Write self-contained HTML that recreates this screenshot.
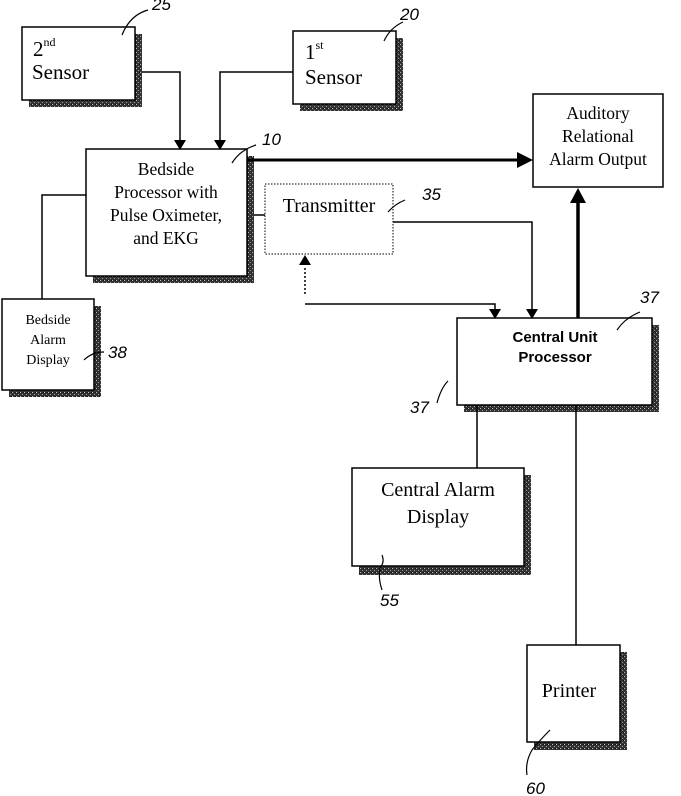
<!DOCTYPE html>
<html><head><meta charset="utf-8"><style>
html,body{margin:0;padding:0;background:#fff;}
svg{display:block;}
text{font-family:"Liberation Serif",serif;fill:#000;}
.h{font-family:"Liberation Sans",sans-serif;font-style:italic;font-size:17px;}
</style></head><body>
<svg width="681" height="796" viewBox="0 0 681 796" xmlns="http://www.w3.org/2000/svg">
<defs>
<pattern id="sh" width="4" height="4" patternUnits="userSpaceOnUse">
<rect width="4" height="4" fill="#333"/><rect x="0" y="0" width="1" height="1" fill="#bbb"/><rect x="2" y="2" width="1" height="1" fill="#999"/><rect x="3" y="0" width="1" height="1" fill="#111"/>
</pattern>
</defs>
<g fill="url(#sh)">
<rect x="29" y="34" width="113" height="73"/>
<rect x="300" y="38" width="103" height="73"/>
<rect x="93" y="156" width="161" height="127"/>
<rect x="9" y="306" width="92" height="91"/>
<rect x="464" y="325" width="195" height="87"/>
<rect x="359" y="475" width="172" height="100"/>
<rect x="534" y="652" width="93" height="98"/>
</g>
<g fill="#fff" stroke="#000" stroke-width="1.5">
<rect x="22" y="27" width="113" height="73"/>
<rect x="293" y="31" width="103" height="73"/>
<rect x="86" y="149" width="161" height="127"/>
<rect x="2" y="299" width="92" height="91"/>
<rect x="457" y="318" width="195" height="87"/>
<rect x="352" y="468" width="172" height="98"/>
<rect x="527" y="645" width="93" height="97"/>
<rect x="533" y="94" width="130" height="93"/>
</g>
<rect x="265" y="184" width="128" height="70" fill="#fff" stroke="#000" stroke-width="1" stroke-dasharray="1.5,1.5"/>

<g stroke="#000" fill="none" stroke-width="1.5">
<polyline points="142,72 180,72 180,141"/>
<polyline points="293,72 220,72 220,141"/>
<polyline points="86,195 42,195 42,299"/>
<line x1="254" y1="215" x2="265" y2="215"/>
<polyline points="393,222 532,222 532,310"/>
<polyline points="305,304 495,304 495,310"/>
<line x1="305" y1="268" x2="305" y2="296" stroke-dasharray="2,2"/>
<line x1="477" y1="405" x2="477" y2="468"/>
<line x1="576" y1="405" x2="576" y2="645"/>
<line x1="247" y1="160" x2="520" y2="160" stroke-width="3"/>
<line x1="578" y1="318" x2="578" y2="200" stroke-width="3.5"/>
</g>
<g fill="#000">
<polygon points="174,140 186,140 180,150"/>
<polygon points="214,140 226,140 220,150"/>
<polygon points="526,309 538,309 532,319"/>
<polygon points="489,309 501,309 495,319"/>
<polygon points="299,265 311,265 305,255"/>
<polygon points="517,152 517,168 533,160"/>
<polygon points="570,203 586,203 578,188"/>
</g>

<text x="33" y="56" font-size="21">2<tspan font-size="12" dy="-10">nd</tspan></text>
<text x="32" y="79" font-size="21">Sensor</text>
<text x="305" y="59" font-size="21">1<tspan font-size="12" dy="-10">st</tspan></text>
<text x="305" y="84" font-size="21">Sensor</text>
<g font-size="17.5" text-anchor="middle">
<text x="166" y="175">Bedside</text>
<text x="166" y="198">Processor with</text>
<text x="166" y="221">Pulse Oximeter,</text>
<text x="166" y="244">and EKG</text>
</g>
<text x="329" y="212" font-size="20" text-anchor="middle">Transmitter</text>
<g font-size="17.5" text-anchor="middle">
<text x="598" y="119">Auditory</text>
<text x="598" y="142">Relational</text>
<text x="598" y="165">Alarm Output</text>
</g>
<g font-size="14" text-anchor="middle">
<text x="48" y="324">Bedside</text>
<text x="48" y="344">Alarm</text>
<text x="48" y="364">Display</text>
</g>
<g font-weight="bold" font-size="15" text-anchor="middle">
<text x="555" y="342" style="font-family:'Liberation Sans',sans-serif">Central Unit</text>
<text x="555" y="362" style="font-family:'Liberation Sans',sans-serif">Processor</text>
</g>
<g font-size="20" text-anchor="middle">
<text x="438" y="496">Central Alarm</text>
<text x="438" y="523">Display</text>
</g>
<text x="569" y="697" font-size="20" text-anchor="middle">Printer</text>

<g stroke="#000" fill="none" stroke-width="1.2">
<path d="M122,35 Q130,15 148,10"/>
<path d="M384,41 Q390,28 403,22"/>
<path d="M232,163 Q240,150 256,145"/>
<path d="M388,212 Q395,204 405,200"/>
<path d="M84,360 Q92,352 104,352"/>
<path d="M617,330 Q625,318 640,312"/>
<path d="M437,403 Q441,388 448,381"/>
<path d="M382,555 Q385,562 380,568 Q378,578 382,590"/>
<path d="M550,730 Q540,740 532,750 Q525,762 527,775"/>
</g>
<text class="h" x="152" y="10">25</text>
<text class="h" x="400" y="20">20</text>
<text class="h" x="262" y="145">10</text>
<text class="h" x="422" y="200">35</text>
<text class="h" x="108" y="358">38</text>
<text class="h" x="640" y="303">37</text>
<text class="h" x="410" y="413">37</text>
<text class="h" x="380" y="606">55</text>
<text class="h" x="526" y="794">60</text>
</svg>
</body></html>
